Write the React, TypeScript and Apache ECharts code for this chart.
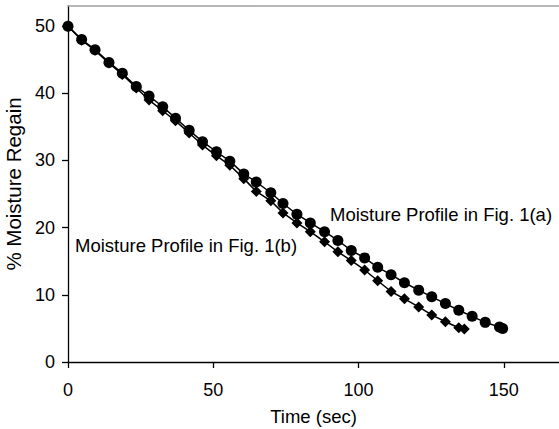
import React, { useEffect, useRef } from "react";
import * as echarts from "echarts";

const timeA = [0, 4.7, 9.3, 14.1, 18.7, 23.5, 27.9, 32.6, 37.0, 41.7, 46.3, 51.1, 55.7, 60.5, 64.8, 69.8, 74.0, 78.8, 83.4, 88.3, 92.9, 97.5, 102.1, 106.6, 111.2, 115.8, 120.7, 125.2, 129.9, 134.5, 139.1, 143.6, 148.5, 149.6];
const moistureA = [50.0, 48.0, 46.5, 44.6, 43.0, 41.0, 39.6, 38.0, 36.3, 34.5, 32.8, 31.3, 29.9, 28.0, 26.8, 25.2, 23.6, 22.0, 20.7, 19.4, 18.1, 16.6, 15.5, 14.1, 13.0, 11.8, 10.7, 9.7, 8.7, 7.7, 6.8, 5.9, 5.2, 5.0];

const timeB = [0, 4.7, 9.3, 14.1, 18.7, 23.5, 27.9, 32.6, 37.0, 41.7, 46.3, 51.1, 55.7, 60.5, 64.8, 69.8, 74.0, 78.8, 83.4, 88.3, 92.9, 97.5, 102.1, 106.6, 111.2, 115.8, 120.7, 125.2, 129.9, 134.5, 136.4];
const moistureB = [50.0, 47.9, 46.4, 44.5, 42.8, 40.8, 39.0, 37.4, 35.9, 34.1, 32.3, 30.7, 29.3, 27.3, 25.4, 24.0, 22.2, 20.7, 19.4, 17.9, 16.4, 15.1, 13.7, 12.1, 10.5, 9.4, 8.2, 7.0, 6.0, 5.1, 4.9];

const labelA = "Moisture Profile in Fig. 1(a)";
const labelB = "Moisture Profile in Fig. 1(b)";
const xName = "Time (sec)";
const yName = "% Moisture Regain";

const FONT = "'Liberation Sans', Arial, sans-serif";

export default function App() {
  const ref = useRef<HTMLDivElement>(null);
  useEffect(() => {
    if (!ref.current) return;
    const chart = echarts.init(ref.current, null, { renderer: "svg" });
    const pairs = (xs: number[], ys: number[]) => xs.map((x, i) => [x, ys[i]]);
    chart.setOption({
      animation: false,
      backgroundColor: "#fff",
      textStyle: { fontFamily: FONT },
      grid: { left: 68, right: 0, top: 6, bottom: 67, containLabel: false, outerBoundsMode: "none" },
      xAxis: [
        {
          type: "value",
          min: 0,
          max: 169,
          interval: 50,
          name: xName,
          nameLocation: "middle",
          nameGap: 45,
          nameTextStyle: { fontSize: 18.5, color: "#000", fontFamily: FONT },
          axisLine: { show: true, lineStyle: { color: "#000", width: 1.3 } },
          axisTick: { show: true, inside: false, length: 6, lineStyle: { color: "#000", width: 1.3 } },
          axisLabel: { fontSize: 18, color: "#000", margin: 19, showMaxLabel: false, fontFamily: FONT },
          splitLine: { show: false },
        },
        {
          type: "value",
          position: "top",
          min: 0,
          max: 169,
          axisLine: { show: true, onZero: false, lineStyle: { color: "#a0a0a0", width: 1.6 } },
          axisTick: { show: false },
          axisLabel: { show: false },
          splitLine: { show: false },
        },
      ],
      yAxis: {
        type: "value",
        min: 0,
        max: 53,
        interval: 10,
        name: yName,
        nameLocation: "middle",
        nameGap: 39,
        nameTextStyle: { fontSize: 20.5, color: "#000", fontFamily: FONT },
        axisLine: { show: true, lineStyle: { color: "#000", width: 1.3 } },
        axisTick: { show: true, inside: false, length: 6, lineStyle: { color: "#000", width: 1.3 } },
        axisLabel: { fontSize: 18, color: "#000", margin: 13, showMaxLabel: false, fontFamily: FONT },
        splitLine: { show: false },
      },
      series: [
        {
          type: "line",
          data: pairs(timeB, moistureB),
          symbol: "diamond",
          symbolSize: 11,
          showAllSymbol: true,
          lineStyle: { color: "#000", width: 1.5 },
          itemStyle: { color: "#000" },
          z: 2,
        },
        {
          type: "line",
          data: pairs(timeA, moistureA),
          symbol: "circle",
          symbolSize: 11,
          showAllSymbol: true,
          lineStyle: { color: "#000", width: 1.5 },
          itemStyle: { color: "#000" },
          z: 3,
        },
      ],
      graphic: [
        {
          type: "text",
          left: 330,
          top: 205,
          style: { text: labelA, fontSize: 18.5, fill: "#000", fontFamily: FONT },
        },
        {
          type: "text",
          left: 75,
          top: 236,
          style: { text: labelB, fontSize: 18.5, fill: "#000", fontFamily: FONT },
        },
      ],
    });
    return () => chart.dispose();
  }, []);
  return (
    <div
      ref={ref}
      style={{ position: "absolute", left: 0, top: 0, width: 559, height: 429 }}
    />
  );
}
